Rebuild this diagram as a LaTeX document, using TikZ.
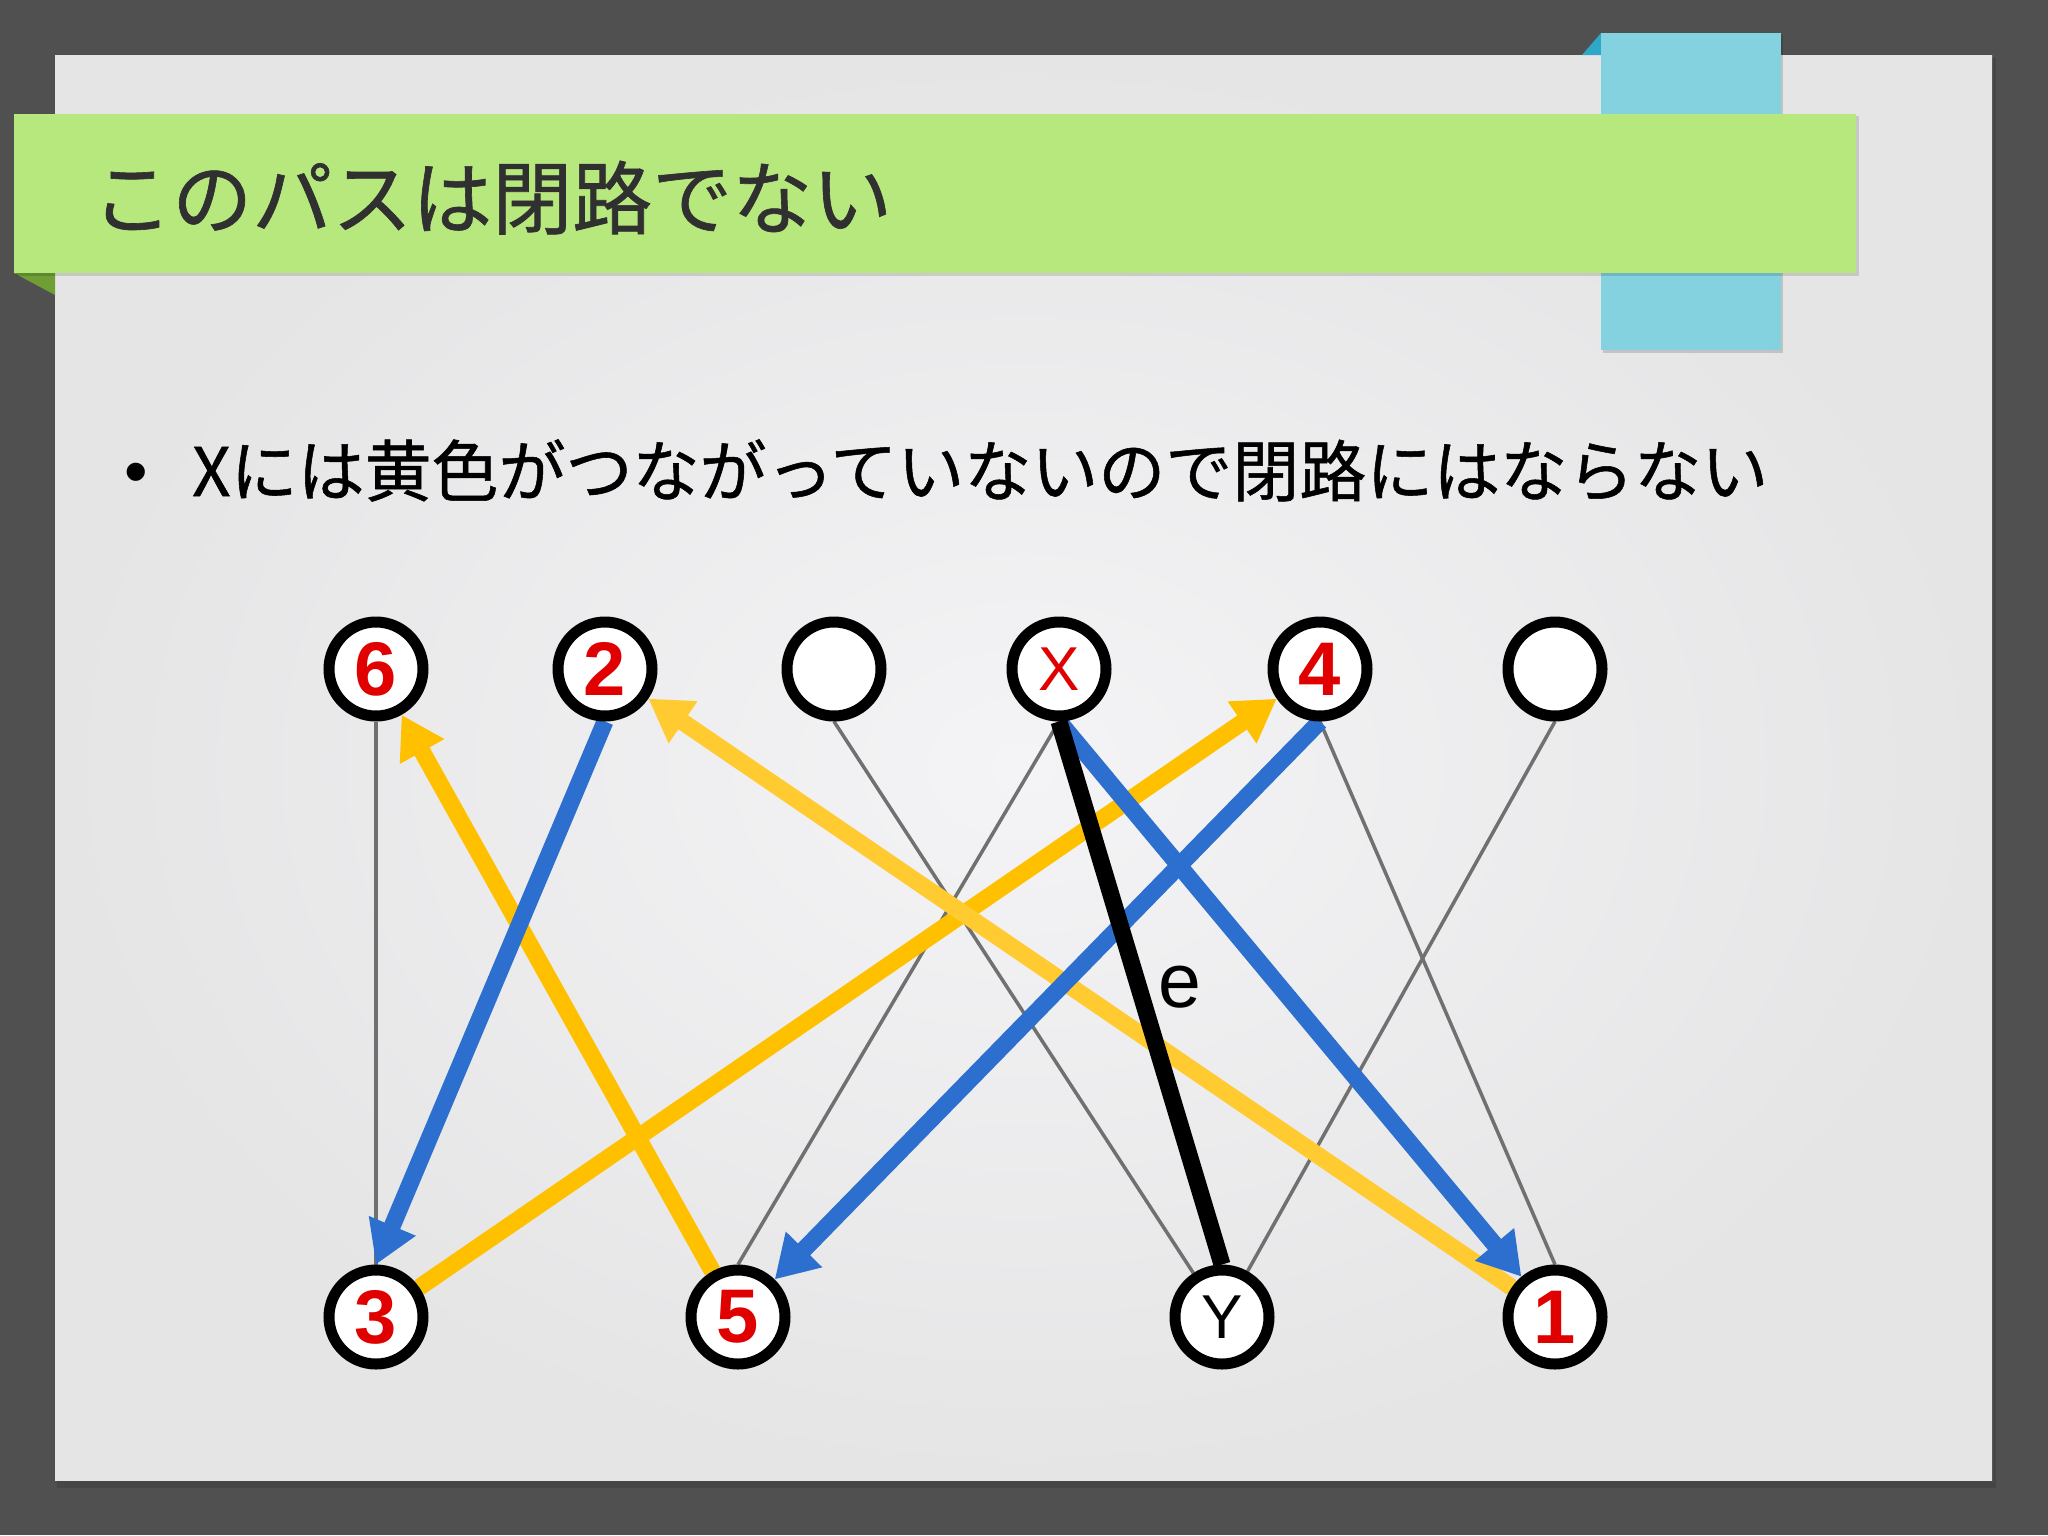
\documentclass[tikz,border=0pt]{standalone}
\usepackage{fontspec}
\newfontfamily\cjk[FakeBold=0.8]{Noto Sans CJK JP}
\newfontfamily\arialf{Liberation Sans}
\usetikzlibrary{arrows.meta,backgrounds}
\definecolor{bgdark}{HTML}{505050}
\definecolor{slidein}{HTML}{F4F4F6}
\definecolor{slideout}{HTML}{E5E5E6}
\definecolor{bannergreen}{HTML}{B6E87D}
\definecolor{foldgreen}{HTML}{6E9E34}
\definecolor{tabblue}{HTML}{84D1E0}
\definecolor{foldblue}{HTML}{2FA8C8}
\definecolor{titlegray}{HTML}{303030}
\definecolor{labred}{HTML}{E00000}
\definecolor{eblue}{HTML}{2D6FCF}
\definecolor{eyellow}{HTML}{FFC000}
\definecolor{eyellowb}{HTML}{FFCB30}
\definecolor{egray}{HTML}{707070}
\begin{document}
\begin{tikzpicture}[x=1pt,y=-1pt,
  vtx/.style={circle,draw=black,line width=11pt,fill=white,minimum size=94pt,inner sep=0pt},
  numlab/.style={font=\arialf\bfseries\fontsize{76}{76}\selectfont,text=labred},
  letlab/.style={font=\arialf\fontsize{62}{62}\selectfont},
  thinedge/.style={draw=egray,line width=3.5pt},
  yarr/.style={draw=eyellow,line width=17pt,-{Triangle[length=42pt,width=48pt]}},
  yarrb/.style={draw=eyellowb,line width=17pt,-{Triangle[length=42pt,width=48pt]}},
  barr/.style={draw=eblue,line width=17pt,-{Triangle[length=42pt,width=48pt]}},
  blk/.style={draw=black,line width=17pt},
  elab/.style={font=\arialf\fontsize{77}{77}\selectfont,inner sep=0pt}
]
\useasboundingbox (0,0) rectangle (2048,1535);
\begin{scope}[on background layer]
  \fill[bgdark] (0,0) rectangle (2048,1535);
  \fill[black,opacity=0.12] (57,58) rectangle (1996,1488);
  \shade[inner color=slidein,outer color=slideout] (55,55) rectangle (1992,1480);
  % blue tab
  \fill[foldblue] (1582,55) -- (1601,33) -- (1601,55) -- cycle;
  \fill[black,opacity=0.15] (1603,35) rectangle (1783,353);
  \fill[tabblue] (1601,33) rectangle (1781,350);
  % green banner
  \fill[foldgreen] (14,273) -- (55,273) -- (55,295) -- cycle;
  \fill[black,opacity=0.13] (16,116) rectangle (1859,276);
  \fill[bannergreen] (14,114) rectangle (1856,273);
\end{scope}
\node[anchor=base west,inner sep=0pt,text=titlegray,font=\cjk\fontsize{80}{80}\selectfont] (title) at (92,228) {このパスは閉路でない};
\node[anchor=base,inner sep=0pt,font=\arialf\fontsize{67}{67}\selectfont] (bullet) at (136,494) {•};
\node[anchor=base west,inner sep=0pt,text=black,font=\cjk\fontsize{67}{67}\selectfont] (body) at (192,496) {Xには黄色がつながっていないので閉路にはならない};
% vertices
\node[vtx,numlab] (n6) at (376,669) {6};
\node[vtx,numlab] (n2) at (605,669) {2};
\node[vtx] (na) at (834,669) {};
\node[vtx,letlab,text=labred] (nX) at (1059,669) {X};
\node[vtx,numlab] (n4) at (1320,669) {4};
\node[vtx] (nb) at (1555,669) {};
\node[vtx,numlab] (n3) at (376,1317) {3};
\node[vtx,numlab] (n5) at (738,1317) {5};
\node[vtx,letlab] (nY) at (1222,1317) {Y};
\node[vtx,numlab] (n1) at (1555,1317) {1};
\begin{scope}[on background layer]
  \draw[thinedge] (n6.south) -- (n3.north);
  \draw[thinedge] (na.south) -- (nY);
  \draw[thinedge] (nX.south) -- (n5.north);
  \draw[thinedge] (n4.south) -- (n1.north);
  \draw[thinedge] (nb.south) -- (nY);
  \draw[yarr] (n5) -- (n6);
  \draw[yarr] (n3) -- (n4);
  \draw[yarrb] (n1) -- (n2);
  \draw[barr] (n2.south) -- (n3.north);
  \draw[barr] (n4.south) -- (n5);
  \draw[barr] (nX.south) -- (n1);
  \draw[blk] (nX.south) -- node[elab,pos=0.49,xshift=41pt] (elabel) {e} (nY.north);
\end{scope}
\end{tikzpicture}
\end{document}
